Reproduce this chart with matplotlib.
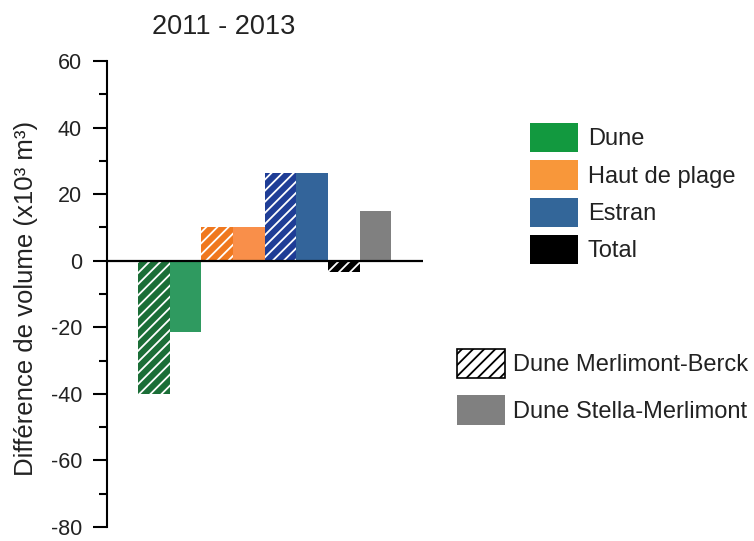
import numpy as np
import matplotlib
matplotlib.use('Agg')
import matplotlib.pyplot as plt
from matplotlib.patches import Patch

plt.rcParams['font.family'] = ['Liberation Sans', 'DejaVu Sans']
plt.rcParams['hatch.linewidth'] = 1.3
plt.rcParams['axes.unicode_minus'] = False

# data (x10^3 m3)
groups = ['Dune', 'Haut de plage', 'Estran', 'Total']
merlimont_berck = [-40, 10, 26.5, -3.5]
stella_merlimont = [-21.5, 10, 26.5, 15]

# colours
col_hatched = ['#1b6e37', '#f0781e', '#1f3d96', '#000000']
col_solid = ['#2f9a60', '#f98f4a', '#33649a', '#808080']
col_legend = ['#12993f', '#f8973a', '#336699', '#000000']
txt = '#222222'

fig = plt.figure(figsize=(7.54, 5.41), dpi=100)
ax = fig.add_axes([107/754, 1-527/541, (423-107)/754, (527-61)/541])

x = np.arange(len(groups))
w = 0.5
for i in range(len(groups)):
    ax.bar(x[i] - w/2, merlimont_berck[i], w, color=col_hatched[i],
           edgecolor='white', hatch='///', lw=0)
    ax.bar(x[i] + w/2, stella_merlimont[i], w, color=col_solid[i], lw=0)

ax.axhline(0, color='black', lw=1.6, zorder=5)
ax.set_xlim(-0.99, 4.0)
ax.set_ylim(-80, 60)
ax.set_yticks(np.arange(-80, 61, 20))
ax.set_yticks(np.arange(-70, 60, 10), minor=True)
ax.set_xticks([])
for s in ['top', 'right', 'bottom']:
    ax.spines[s].set_visible(False)
ax.spines['left'].set_linewidth(1.5)
ax.tick_params(axis='y', which='major', length=10, width=1.5, pad=8,
               labelsize=15.5, labelcolor=txt)
ax.tick_params(axis='y', which='minor', length=6, width=1.5)

fig.text(224/754, 1-27/541, '2011 - 2013', ha='center', va='center',
         fontsize=19.5, color=txt)
fig.text(26/754, 1-298/541, 'Différence de volume (x10³ m³)',
         rotation=90, ha='center', va='center', fontsize=18.5, color=txt)

h1 = [Patch(facecolor=c, edgecolor='none') for c in col_legend]
leg1 = fig.legend(h1, groups, loc='upper left',
                  bbox_to_anchor=(530/754, 1-123/541), frameon=False,
                  fontsize=17, handlelength=2.03, handleheight=1.53,
                  labelspacing=0.34, handletextpad=0.42, borderpad=0,
                  borderaxespad=0, labelcolor=txt)

h2 = [Patch(facecolor='white', edgecolor='black', hatch='///', lw=1.2),
      Patch(facecolor='#808080', edgecolor='none')]
leg2 = fig.legend(h2, ['Dune Merlimont-Berck', 'Dune Stella-Merlimont'],
                  loc='upper left', bbox_to_anchor=(457/754, 1-349/541),
                  frameon=False, fontsize=17, handlelength=2.03,
                  handleheight=1.53, labelspacing=0.72, handletextpad=0.34,
                  borderpad=0, borderaxespad=0, labelcolor=txt)

fig.savefig('out.png', dpi=100)
